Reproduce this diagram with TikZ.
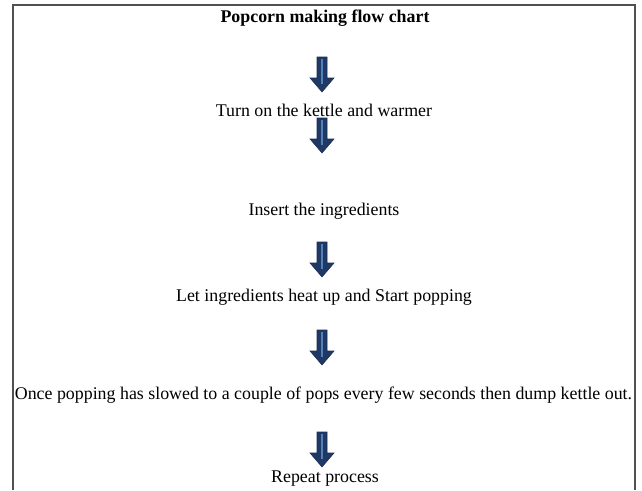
\documentclass[tikz,border=0pt]{standalone}
\usepackage{fontspec}
\setmainfont{Liberation Serif}
\definecolor{arrowblue}{RGB}{31,56,100}
\definecolor{stripeblue}{RGB}{79,129,189}
\definecolor{framegray}{RGB}{80,80,80}
\tikzset{
  steptext/.style={font=\fontsize{13.4}{16}\selectfont, inner sep=0pt},
  titletext/.style={font=\fontsize{13.4}{16}\selectfont\bfseries, inner sep=0pt},
}
% block arrow, #1 = top of the shaft
\newcommand{\flowarrow}[1]{%
  \fill[arrowblue, draw=arrowblue!85!black] (317,#1) -- (327,#1) -- (327,#1+21) -- (334,#1+21)
    -- (322,#1+35) -- (310,#1+21) -- (317,#1+21) -- cycle;
  \draw[stripeblue, line width=1.2pt] (322,#1+2) -- (322,#1+27);
}
\begin{document}
\begin{tikzpicture}[x=0.75pt,y=-0.75pt]
\useasboundingbox (0,0) rectangle (642,490);
%
\draw[framegray, line width=1.5pt] (12.5,490) -- (12.5,5) -- (634.5,5) -- (634.5,490);
%
\node[titletext] (title) at (325,18) {Popcorn making flow chart};
\node[steptext] (turnon) at (324,110) {Turn on the kettle and warmer};
\node[steptext] (insert) at (324,211) {Insert the ingredients};
\node[steptext] (heat) at (324,297) {Let ingredients heat up and Start popping};
\node[steptext] (dump) at (323.5,395) {Once popping has slowed to a couple of pops every few seconds then dump kettle out.};
\node[steptext] (repeat) at (325,479) {Repeat process};
%
\foreach \t in {57,118,242,330,432}
  \flowarrow{\t};
%
\end{tikzpicture}
\end{document}
